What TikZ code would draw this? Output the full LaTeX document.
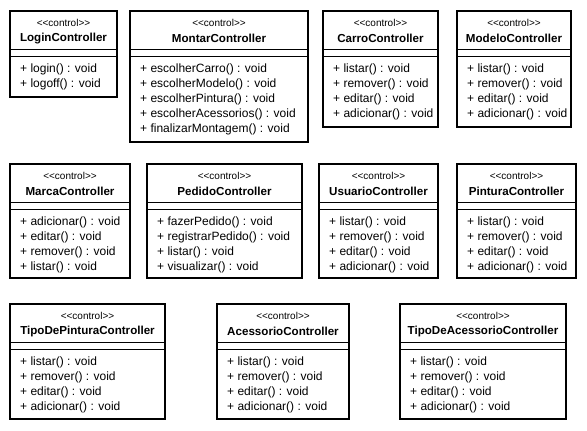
\documentclass[tikz,border=0pt]{standalone}
\usepackage{fontspec}
\setmainfont{Liberation Sans}
\tikzset{
  clsbox/.style={draw=black, line width=2pt, fill=white, inner sep=0pt, outer sep=0pt, anchor=north west},
  sepline/.style={draw=black, line width=1pt},
  stereo/.style={inner sep=0pt, font=\fontsize{10}{12}\selectfont},
  clsname/.style={inner sep=0pt, font=\fontsize{11.6}{14}\selectfont\bfseries},
  meth/.style={inner sep=0pt, anchor=west, font=\fontsize{12}{14}\selectfont},
}
% #1 id, #2 x1, #3 y1, #4 x2, #5 y2, #6 name, #7 methods
\newcommand{\umlcls}[7]{%
  \node[clsbox, minimum width={(#4-#2)*1pt}, minimum height={(#5-#3)*1pt}] (#1) at (#2,#3) {};
  \draw[sepline] ({#2},{#3+38}) -- ({#4},{#3+38});
  \draw[sepline] ({#2},{#3+45.5}) -- ({#4},{#3+45.5});
  \node[stereo] (#1-st) at ({(#2+#4)/2},{#3+12}) {<{}<control>{}>};
  \node[clsname] (#1-nm) at ({(#2+#4)/2},{#3+27.5}) {#6};
  \foreach \m [count=\i] in {#7} {
    \node[meth] (#1-m\i) at ({#2+10},{#3+58+15*(\i-1)}) {\m};
  }
}
\begin{document}
\begin{tikzpicture}[x=1pt,y=-1pt]
\useasboundingbox[fill=white] (0,0) rectangle (587,431);
\umlcls{login}{10}{11}{117}{97}{LoginController}{+ login() : void, + logoff() : void}
\umlcls{montar}{130}{11}{308}{142}{MontarController}{+ escolherCarro() : void, + escolherModelo() : void, + escolherPintura() : void, + escolherAcessorios() : void, + finalizarMontagem() : void}
\umlcls{carro}{323}{11}{438}{127}{CarroController}{+ listar() : void, + remover() : void, + editar() : void, + adicionar() : void}
\umlcls{modelo}{457}{11}{571}{127}{ModeloController}{+ listar() : void, + remover() : void, + editar() : void, + adicionar() : void}
\umlcls{marca}{10}{164}{130}{278}{MarcaController}{+ adicionar() : void, + editar() : void, + remover() : void, + listar() : void}
\umlcls{pedido}{147}{164}{302}{278}{PedidoController}{+ fazerPedido() : void, + registrarPedido() : void, + listar() : void, + visualizar() : void}
\umlcls{usuario}{319}{164}{438}{278}{UsuarioController}{+ listar() : void, + remover() : void, + editar() : void, + adicionar() : void}
\umlcls{pintura}{457}{164}{576}{278}{PinturaController}{+ listar() : void, + remover() : void, + editar() : void, + adicionar() : void}
\umlcls{tipopintura}{10}{304}{165}{419}{TipoDePinturaController}{+ listar() : void, + remover() : void, + editar() : void, + adicionar() : void}
\umlcls{acessorio}{217}{304}{349}{419}{AcessorioController}{+ listar() : void, + remover() : void, + editar() : void, + adicionar() : void}
\umlcls{tipoacessorio}{400}{304}{566}{419}{TipoDeAcessorioController}{+ listar() : void, + remover() : void, + editar() : void, + adicionar() : void}
\end{tikzpicture}
\end{document}
